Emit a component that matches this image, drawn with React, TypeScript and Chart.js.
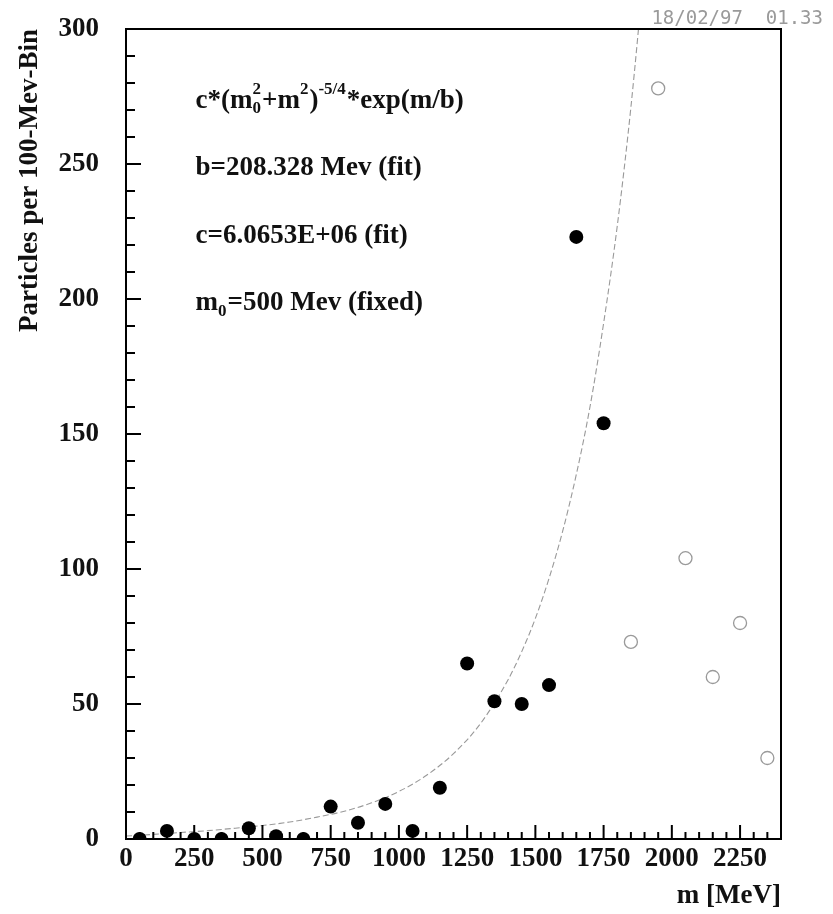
import { useEffect, useRef } from 'react'
import { Chart, registerables } from 'chart.js'

Chart.register(...registerables)

// measured bins (filled) and excluded bins (open)
const FILLED_M = [50, 150, 250, 350, 450, 550, 650, 750, 850, 950, 1050, 1150, 1250, 1350, 1450, 1550, 1650, 1750]
const FILLED_COUNTS = [0, 3, 0, 0, 4, 1, 0, 12, 6, 13, 3, 19, 65, 51, 50, 57, 223, 154]
const OPEN_M = [1850, 1950, 2050, 2150, 2250, 2350]
const OPEN_COUNTS = [73, 278, 104, 60, 80, 30]

// fit curve
const FIT_M = [0, 100, 200, 300, 400, 500, 600, 700, 800, 900, 1000, 1100, 1200, 1300, 1400, 1450, 1500, 1550, 1600, 1650, 1700, 1750, 1800, 1850, 1900]
const FIT_Y = [1.1, 1.7, 2.4, 3.1, 4.0, 5.0, 6.3, 8.1, 10.3, 13.4, 17.6, 23.5, 31.6, 42.9, 59, 69.4, 81.7, 96.5, 114, 135, 160, 191, 227, 271, 324]

const X_TICKS = [0, 250, 500, 750, 1000, 1250, 1500, 1750, 2000, 2250]
const Y_TICKS = [0, 50, 100, 150, 200, 250, 300]
const X_MINOR_STEP = 50
const Y_MINOR_STEP = 10

const SERIF = '"Liberation Serif", "Times New Roman", serif'
const FS = 27

type Seg = { t?: string; sup?: string; sub?: string }

const LINES: { y: number; segs: Seg[] }[] = [
  { y: 273.5, segs: [{ t: 'c*(m' }, { sub: '0', sup: '2' }, { t: '+m' }, { sup: '2' }, { t: ')' }, { sup: '-5/4' }, { t: '*exp(m/b)' }] },
  { y: 248.5, segs: [{ t: 'b=208.328 Mev (fit)' }] },
  { y: 223.5, segs: [{ t: 'c=6.0653E+06 (fit)' }] },
  { y: 198.5, segs: [{ t: 'm' }, { sub: '0' }, { t: '=500 Mev (fixed)' }] },
]

function drawRich(ctx: CanvasRenderingContext2D, x: number, y: number, segs: Seg[]) {
  let cx = x
  const small = Math.round(FS * 0.62)
  for (const s of segs) {
    if (s.t) {
      ctx.font = `bold ${FS}px ${SERIF}`
      ctx.fillText(s.t, cx, y)
      cx += ctx.measureText(s.t).width
    } else {
      ctx.font = `bold ${small}px ${SERIF}`
      let w = 0
      if (s.sup) {
        ctx.fillText(s.sup, cx, y - FS * 0.42)
        w = Math.max(w, ctx.measureText(s.sup).width)
      }
      if (s.sub) {
        ctx.fillText(s.sub, cx, y + FS * 0.3)
        w = Math.max(w, ctx.measureText(s.sub).width)
      }
      cx += w + 1
    }
  }
}

const framePlugin = {
  id: 'frame',
  afterDatasetsDraw(chart: any) {
    const { ctx, chartArea: a, scales } = chart
    const xs = scales.x
    const ys = scales.y
    ctx.save()
    ctx.strokeStyle = '#000'
    ctx.lineWidth = 2
    ctx.strokeRect(a.left, a.top, a.right - a.left, a.bottom - a.top)

    // inward ticks
    ctx.beginPath()
    for (let v = 0; v <= ys.max; v += Y_MINOR_STEP) {
      const py = ys.getPixelForValue(v)
      const len = v % 50 === 0 ? 15 : 9
      ctx.moveTo(a.left, py)
      ctx.lineTo(a.left + len, py)
    }
    for (let v = 0; v < xs.max; v += X_MINOR_STEP) {
      const px = xs.getPixelForValue(v)
      const len = v % 250 === 0 ? 14 : 7
      ctx.moveTo(px, a.bottom)
      ctx.lineTo(px, a.bottom - len)
    }
    ctx.stroke()

    // formula text
    ctx.fillStyle = '#111'
    ctx.textBaseline = 'middle'
    ctx.textAlign = 'left'
    for (const line of LINES) {
      drawRich(ctx, xs.getPixelForValue(255), ys.getPixelForValue(line.y), line.segs)
    }

    // date stamp
    ctx.font = '19px "DejaVu Sans Mono", monospace'
    ctx.fillStyle = '#9a9a9a'
    ctx.textAlign = 'right'
    ctx.fillText('18/02/97  01.33', a.right + 42, 19)
    ctx.restore()
  },
}

export default function App() {
  const canvasRef = useRef<HTMLCanvasElement>(null)

  useEffect(() => {
    if (!canvasRef.current) return
    const chart = new Chart(canvasRef.current, {
      type: 'scatter',
      data: {
        datasets: [
          {
            label: 'filled',
            data: FILLED_M.map((m, i) => ({ x: m, y: FILLED_COUNTS[i] })),
            pointRadius: 7,
            pointBackgroundColor: '#000',
            pointBorderColor: '#000',
            pointBorderWidth: 0,
            order: 1,
          },
          {
            label: 'open',
            data: OPEN_M.map((m, i) => ({ x: m, y: OPEN_COUNTS[i] })),
            pointRadius: 6.5,
            pointBackgroundColor: 'rgba(255,255,255,0)',
            pointBorderColor: '#9a9a9a',
            pointBorderWidth: 1.3,
            order: 2,
          },
          {
            type: 'line',
            label: 'fit',
            data: FIT_M.map((m, i) => ({ x: m, y: FIT_Y[i] })),
            borderColor: '#999',
            borderWidth: 1.1,
            borderDash: [6, 3],
            pointRadius: 0,
            cubicInterpolationMode: 'monotone',
            fill: false,
            order: 3,
          } as any,
        ],
      },
      options: {
        animation: false,
        responsive: true,
        maintainAspectRatio: false,
        layout: { padding: { left: 0, top: 29, right: 52, bottom: 0 } },
        plugins: { legend: { display: false }, tooltip: { enabled: false } },
        scales: {
          x: {
            type: 'linear',
            min: 0,
            max: 2400,
            afterBuildTicks: (s: any) => { s.ticks = X_TICKS.map((v) => ({ value: v })) },
            afterFit: (s: any) => { s.height = 75 },
            grid: { display: false, drawTicks: false },
            border: { display: false },
            ticks: {
              color: '#111',
              padding: 4,
              maxRotation: 0,
              autoSkip: false,
              callback: (v: any) => String(v),
              font: { family: SERIF, size: FS, weight: 'bold' },
            },
            title: {
              display: true,
              text: 'm [MeV]',
              align: 'end',
              color: '#111',
              padding: { top: 0, bottom: 2 },
              font: { family: SERIF, size: FS, weight: 'bold' },
            },
          },
          y: {
            type: 'linear',
            min: 0,
            max: 300,
            afterBuildTicks: (s: any) => { s.ticks = Y_TICKS.map((v) => ({ value: v })) },
            afterFit: (s: any) => {
              s.width = 126
              s.paddingTop = 0
              s.paddingBottom = 0
            },
            grid: { display: false, drawTicks: false },
            border: { display: false },
            ticks: {
              color: '#111',
              padding: 27,
              autoSkip: false,
              callback: (v: any) => String(v),
              font: { family: SERIF, size: FS, weight: 'bold' },
            },
            title: {
              display: true,
              text: 'Particles per 100-Mev-Bin',
              align: 'end',
              color: '#111',
              padding: { top: 14, bottom: 0 },
              font: { family: SERIF, size: 27, weight: 'bold' },
            },
          },
        },
      },
      plugins: [framePlugin],
    })
    return () => chart.destroy()
  }, [])

  return (
    <div style={{ position: 'absolute', left: 0, top: 0, width: 833, height: 914, background: '#fff' }}>
      <canvas ref={canvasRef}></canvas>
    </div>
  )
}
